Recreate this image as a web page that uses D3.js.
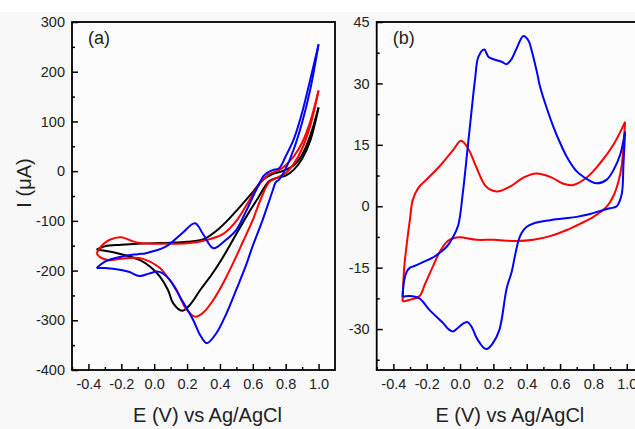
<!DOCTYPE html>
<html>
<head>
<meta charset="utf-8">
<script src="https://cdn.jsdelivr.net/npm/d3@7"></script>
<style>
  body { margin: 0; background: #fff; }
  svg { display: block; font-family: "Liberation Sans", Arial, sans-serif; }
</style>
</head>
<body>
<div id="chart"></div>
<script>
// panel (a) - three CVs, forward and reverse branches, [E (V), I (uA)]
const blackFwdA = [[-0.35,-158],[-0.3,-151],[-0.2,-148],[-0.1,-146],[0.0,-145],[0.1,-144],[0.2,-142],[0.3,-137],[0.4,-114],[0.5,-80],[0.6,-42],[0.66,-18],[0.72,-6],[0.78,0],[0.85,12],[0.9,33],[0.95,72],[1.0,128]]
const blackRevA = [[1.0,128],[0.95,62],[0.9,25],[0.85,3],[0.8,-9],[0.75,-13],[0.7,-20],[0.63,-55],[0.56,-92],[0.49,-132],[0.42,-172],[0.35,-208],[0.28,-239],[0.22,-268],[0.17,-281],[0.116,-266],[0.084,-239],[0.035,-212],[-0.026,-192],[-0.086,-179],[-0.2,-167],[-0.3,-160],[-0.35,-158]]
const redFwdA = [[-0.35,-165],[-0.32,-150],[-0.27,-138],[-0.2,-133],[-0.14,-140],[-0.1,-144],[0.0,-146],[0.1,-146],[0.2,-145],[0.3,-140],[0.42,-126],[0.5,-100],[0.58,-58],[0.65,-22],[0.7,-6],[0.76,2],[0.8,12],[0.85,30],[0.9,57],[0.95,100],[1.0,162]]
const redRevA = [[1.0,162],[0.95,92],[0.9,45],[0.85,15],[0.8,-4],[0.75,-13],[0.7,-22],[0.65,-55],[0.6,-98],[0.54,-142],[0.48,-185],[0.42,-225],[0.36,-259],[0.3,-284],[0.25,-293],[0.19,-275],[0.137,-239],[0.08,-213],[0.035,-195],[-0.086,-175],[-0.2,-176],[-0.277,-179],[-0.33,-173],[-0.35,-165]]
const blueFwdA = [[-0.35,-195],[-0.3,-182],[-0.2,-172],[-0.1,-167],[-0.05,-165],[0.07,-152],[0.17,-125],[0.248,-105],[0.3,-128],[0.36,-155],[0.43,-140],[0.5,-118],[0.56,-80],[0.62,-38],[0.67,-8],[0.72,2],[0.76,6],[0.8,30],[0.85,65],[0.9,118],[0.95,185],[1.0,255]]
const blueRevA = [[1.0,255],[0.95,165],[0.9,98],[0.85,45],[0.8,5],[0.76,-17],[0.74,-22],[0.72,-40],[0.66,-98],[0.6,-150],[0.56,-188],[0.5,-238],[0.44,-286],[0.38,-325],[0.32,-346],[0.28,-330],[0.238,-300],[0.157,-253],[0.096,-219],[0.05,-205],[0.015,-202],[-0.03,-206],[-0.09,-211],[-0.15,-203],[-0.2,-199],[-0.3,-195],[-0.35,-195]]

// panel (b) - two CVs
const redFwdB = [[-0.345,-23.3],[-0.335,-15],[-0.324,-10.7],[-0.3,-3],[-0.284,1.5],[-0.25,4.5],[-0.204,6.4],[-0.124,9.7],[-0.042,13.7],[0.006,16],[0.05,14],[0.096,9.7],[0.156,4.8],[0.22,3.6],[0.3,4.8],[0.38,7],[0.46,8.0],[0.55,7],[0.62,5.5],[0.68,5.2],[0.76,7],[0.84,10.5],[0.92,15],[0.99,20.6]]
const redRevB = [[0.99,20.6],[0.97,10],[0.95,6],[0.92,2.5],[0.88,-0.1],[0.8,-2.6],[0.72,-4.3],[0.64,-5.8],[0.54,-7.3],[0.44,-8.2],[0.34,-8.5],[0.2,-8.2],[0.1,-8.2],[0.0,-7.6],[-0.04,-7.8],[-0.074,-8.5],[-0.12,-11],[-0.164,-14.8],[-0.21,-19],[-0.244,-22],[-0.304,-22.9],[-0.345,-23.3]]
const blueFwdB = [[-0.345,-22.1],[-0.335,-18],[-0.32,-16],[-0.3,-15],[-0.274,-14.6],[-0.22,-13.6],[-0.17,-12.7],[-0.12,-11.3],[-0.08,-9.9],[-0.04,-7.4],[-0.01,-4.5],[0.016,3],[0.045,14],[0.076,26],[0.09,31],[0.11,36.5],[0.145,38.3],[0.17,36.5],[0.2,35.9],[0.25,35.3],[0.28,34.7],[0.31,36],[0.34,38.6],[0.38,41.6],[0.41,40.5],[0.43,38],[0.46,33],[0.48,29.2],[0.52,24],[0.56,19.4],[0.6,15.5],[0.64,12.1],[0.7,8.5],[0.74,7.2],[0.82,5.6],[0.88,6.5],[0.92,8.8],[0.96,12.5],[0.99,18.2]]
const blueRevB = [[0.99,18.2],[0.98,10],[0.97,3],[0.94,0],[0.9,-0.5],[0.86,-0.9],[0.78,-1.9],[0.7,-2.6],[0.62,-3.0],[0.54,-3.4],[0.44,-4.2],[0.4,-5],[0.37,-6.5],[0.35,-8.5],[0.33,-12],[0.31,-16],[0.28,-20],[0.236,-30.2],[0.196,-33.5],[0.165,-34.8],[0.146,-34.7],[0.12,-33.5],[0.096,-31.9],[0.07,-29.5],[0.045,-28.3],[0.025,-28.5],[-0.01,-29.6],[-0.042,-30.6],[-0.07,-30],[-0.1,-28.6],[-0.184,-25.3],[-0.244,-22.5],[-0.304,-21.9],[-0.345,-22.1]]

const xTicks = [-0.4,-0.2,0.0,0.2,0.4,0.6,0.8,1.0]
const xMinor = [-0.5,-0.3,-0.1,0.1,0.3,0.5,0.7,0.9]
const yTicksA = [-400,-300,-200,-100,0,100,200,300]
const yMinorA = [-350,-250,-150,-50,50,150,250]
const yTicksB = [-30,-15,0,15,30,45]
const yMinorB = [-37.5,-22.5,-7.5,7.5,22.5,37.5]

const svgWidth = 635
const svgHeight = 429

// plain hyphen for negatives, as in the original figure
const fmt1 = d => d3.format(".1f")(d).replace("\u2212", "-")
const fmt0 = d => d3.format("d")(d).replace("\u2212", "-")

const svg = d3.select("#chart")
    .append("svg")
    .attr("width", svgWidth)
    .attr("height", svgHeight)

// faint grey page like the scan
svg.append("rect")
    .attr("x", 0).attr("y", 12)
    .attr("width", svgWidth).attr("height", svgHeight - 12)
    .attr("fill", "#f8f8f8")

function drawPanel(opts) {
  const x = d3.scaleLinear().domain([-0.5, 1.1]).range([opts.left, opts.right])
  const y = d3.scaleLinear().domain(opts.yDomain).range([370, 22])
  const g = svg.append("g")

  g.append("rect")
      .attr("x", opts.left).attr("y", 22)
      .attr("width", opts.right - opts.left).attr("height", 348)
      .attr("fill", "#fcfcfc")

  const line = d3.line()
      .x(d => x(d[0]))
      .y(d => y(d[1]))
      .curve(d3.curveCatmullRom.alpha(0.5))

  opts.series.forEach(s => {
    g.append("path")
        .datum(s.data)
        .attr("fill", "none")
        .attr("stroke", s.color)
        .attr("stroke-width", 2)
        .attr("stroke-linejoin", "round")
        .attr("d", line)
  })

  // ticks point inwards
  const xAx = g.append("g")
      .attr("transform", `translate(0,370)`)
      .call(d3.axisBottom(x).tickValues(xTicks).tickSize(-6).tickPadding(9).tickFormat(fmt1))
  xAx.append("g").call(d3.axisBottom(x).tickValues(xMinor).tickSize(-3).tickFormat(""))

  const yAx = g.append("g")
      .attr("transform", `translate(${opts.left},0)`)
      .call(d3.axisLeft(y).tickValues(opts.yTicks).tickSize(-6).tickPadding(7).tickFormat(fmt0))
  yAx.append("g").call(d3.axisLeft(y).tickValues(opts.yMinor).tickSize(-3).tickFormat(""))

  g.selectAll(".domain").remove()
  g.selectAll(".tick line").attr("stroke", "#000").attr("stroke-width", 1.5)
  g.selectAll(".tick text")
      .attr("font-size", 14.5)
      .attr("fill", "#222")
      .attr("font-family", "Liberation Sans, Arial, sans-serif")

  g.append("rect")
      .attr("x", opts.left).attr("y", 22)
      .attr("width", opts.right - opts.left).attr("height", 348)
      .attr("fill", "none")
      .attr("stroke", "#000")
      .attr("stroke-width", 1.8)

  g.append("text")
      .attr("x", opts.left + 16).attr("y", 44)
      .attr("font-size", 18)
      .attr("fill", "#222")
      .text(opts.label)

  g.append("text")
      .attr("x", (opts.left + Math.min(opts.right, 643)) / 2 + opts.titleShift)
      .attr("y", 422)
      .attr("text-anchor", "middle")
      .attr("font-size", 20)
      .attr("fill", "#222")
      .text("E (V) vs Ag/AgCl")
}

drawPanel({
  left: 72, right: 335, yDomain: [-400, 300],
  yTicks: yTicksA, yMinor: yMinorA, label: "(a)", titleShift: 4,
  series: [
    {data: blackFwdA, color: "#000"}, {data: blackRevA, color: "#000"},
    {data: redFwdA, color: "#ff0000"}, {data: redRevA, color: "#ff0000"},
    {data: blueFwdA, color: "#0000ff"}, {data: blueRevA, color: "#0000ff"}
  ]
})

drawPanel({
  left: 376.7, right: 643.4, yDomain: [-40, 45],
  yTicks: yTicksB, yMinor: yMinorB, label: "(b)", titleShift: 0,
  series: [
    {data: redFwdB, color: "#ff0000"}, {data: redRevB, color: "#ff0000"},
    {data: blueFwdB, color: "#0000ff"}, {data: blueRevB, color: "#0000ff"}
  ]
})

svg.append("text")
    .attr("transform", "translate(31,183) rotate(-90)")
    .attr("text-anchor", "middle")
    .attr("font-size", 20)
    .attr("fill", "#222")
    .text("I (\u03bcA)")
</script>
</body>
</html>
